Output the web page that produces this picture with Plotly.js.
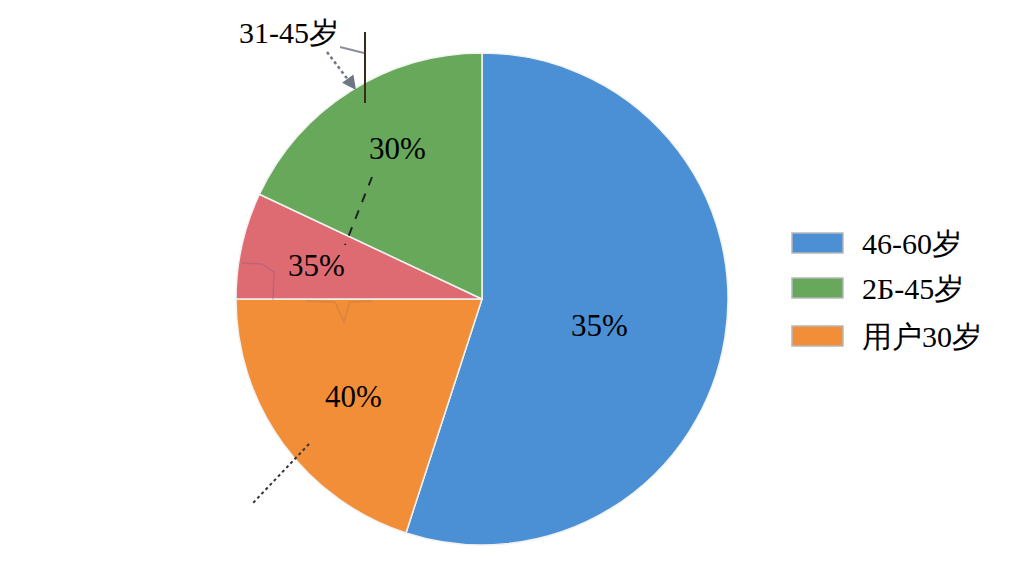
<!DOCTYPE html>
<html>
<head>
<meta charset="utf-8">
<script src="https://cdn.plot.ly/plotly-3.0.1.min.js"></script>
<style>
  html, body { margin: 0; padding: 0; background: #fff; }
  #chart { width: 1024px; height: 576px; }
</style>
</head>
<body>
<div id="chart"></div>
<script>
// slices, clockwise from 12 o'clock
var sliceLabels = ['46-60岁', '用户30岁', '31-45岁', '2Б-45岁'];
var sliceValues = [55, 20, 7, 18];
var sliceText = ['35%', '40%', '35%', '30%'];
var sliceColors = ['#4b8fd5', '#f28e38', '#df6b72', '#67a85b'];

// legend (only three entries in the original)
var legendLabels = ['46-60岁', '2Б-45岁', '用户30岁'];
var legendColors = ['#4b8fd5', '#67a85b', '#f28e38'];

var W = 1024, H = 576;
var font = 'Liberation Serif';

// pixel -> paper helpers
function px(x) { return x / W; }
function py(y) { return 1 - y / H; }

var trace = {
  type: 'pie',
  values: sliceValues,
  labels: sliceLabels,
  textinfo: 'none',
  sort: false,
  direction: 'clockwise',
  rotation: 0,
  showlegend: false,
  hoverinfo: 'label+percent',
  marker: {colors: sliceColors, line: {color: '#f2f2f2', width: 1.5}},
  domain: {x: [px(236), px(728)], y: [py(545), py(53)]}
};

var shapes = [];
var annotations = [];

// faint pen marks over the red/orange slices
function pathOf(pts) {
  return pts.map(function (p, k) {
    return (k ? 'L' : 'M') + px(p[0]).toFixed(4) + ',' + py(p[1]).toFixed(4);
  }).join(' ');
}
shapes.push({type: 'path', xref: 'paper', yref: 'paper',
  path: pathOf([[242, 263], [262, 264], [274, 272], [273, 300]]),
  line: {color: '#7a5a8a', width: 1.5}, opacity: 0.35});
shapes.push({type: 'path', xref: 'paper', yref: 'paper',
  path: pathOf([[306, 301], [335, 302], [344, 322], [350, 302], [372, 301]]),
  line: {color: '#8a6a5a', width: 1.5}, opacity: 0.25});

// slice labels, placed where the original put them
var labelPos = [[599, 325], [353, 396], [316, 265], [397, 148]];
for (var i = 0; i < sliceText.length; i++) {
  annotations.push({
    xref: 'paper', yref: 'paper', x: px(labelPos[i][0]), y: py(labelPos[i][1]),
    xanchor: 'center', yanchor: 'middle', showarrow: false,
    text: sliceText[i], font: {family: font, size: 31, color: '#000'}
  });
}

// legend boxes + labels
var rowY = [243, 288, 336];
for (var i = 0; i < legendLabels.length; i++) {
  shapes.push({
    type: 'rect', xref: 'paper', yref: 'paper',
    x0: px(792), x1: px(843), y0: py(rowY[i] - 10), y1: py(rowY[i] + 10),
    fillcolor: legendColors[i], line: {color: '#b8b8b8', width: 1.5}
  });
  annotations.push({
    xref: 'paper', yref: 'paper', x: px(860), y: py(rowY[i]),
    xanchor: 'left', yanchor: 'middle', showarrow: false,
    text: legendLabels[i], font: {family: font, size: 30, color: '#000'}
  });
}

// hand-drawn callouts
annotations.push({
  xref: 'paper', yref: 'paper', x: px(289), y: py(32),
  xanchor: 'center', yanchor: 'middle', showarrow: false,
  text: '31-45岁', font: {family: font, size: 30, color: '#000'}
});
annotations.push({
  xref: 'paper', yref: 'paper', x: px(356), y: py(90), ax: -8, ay: -11,
  showarrow: true, arrowhead: 2, arrowsize: 1.4, arrowwidth: 2, arrowcolor: '#6f7683', text: ''
});
shapes.push({type: 'line', xref: 'paper', yref: 'paper',
  x0: px(327), y0: py(52), x1: px(352), y1: py(85),
  line: {color: '#6f7683', width: 2.5, dash: 'dot'}});
shapes.push({type: 'line', xref: 'paper', yref: 'paper',
  x0: px(365), y0: py(32), x1: px(365), y1: py(103),
  line: {color: '#3a2a1a', width: 2}});
shapes.push({type: 'line', xref: 'paper', yref: 'paper',
  x0: px(340), y0: py(47), x1: px(364), y1: py(53),
  line: {color: '#8a8f98', width: 2}});
shapes.push({type: 'line', xref: 'paper', yref: 'paper',
  x0: px(372), y0: py(177), x1: px(345), y1: py(245),
  line: {color: '#222', width: 2, dash: 'dash'}});
shapes.push({type: 'line', xref: 'paper', yref: 'paper',
  x0: px(309), y0: py(444), x1: px(253), y1: py(503),
  line: {color: '#333', width: 2, dash: 'dot'}});

var layout = {
  width: W, height: H,
  margin: {l: 0, r: 0, t: 0, b: 0},
  paper_bgcolor: '#ffffff',
  showlegend: false,
  font: {family: font},
  shapes: shapes,
  annotations: annotations
};

Plotly.newPlot('chart', [trace], layout, {displayModeBar: false, staticPlot: true});
</script>
</body>
</html>
